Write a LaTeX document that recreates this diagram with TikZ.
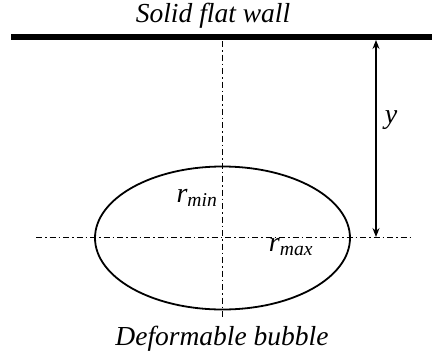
\documentclass[tikz,border=0pt]{standalone}
\usepackage{fontspec}
\setmainfont{Liberation Serif}
\usetikzlibrary{arrows.meta,shapes.geometric}
\begin{document}
\begin{tikzpicture}[x=1pt,y=-1pt,
  wall/.style={line width=6pt},
  axis/.style={line width=0.8pt, dash pattern=on 6pt off 3pt on 1.5pt off 3pt},
  bubble/.style={line width=1.8pt},
  dim/.style={line width=1.2pt, {Stealth[length=9pt,width=7pt,inset=3pt]}-{Stealth[length=9pt,width=7pt,inset=3pt]}},
  lbl/.style={inner sep=0pt, font=\fontsize{27.5}{30}\selectfont\itshape},
  rlbl/.style={inner sep=0pt, font=\fontsize{28}{30}\selectfont\itshape}]
\useasboundingbox (0,0) rectangle (432,360);
\coordinate (wl) at (11,37);
\coordinate (wr) at (432,37);
\draw[wall] (wl) -- (wr);
\node[lbl] (title) at (213,16) {Solid flat wall};
\coordinate (vt) at (222,41);
\coordinate (vb) at (222,318);
\coordinate (hl) at (36,237);
\coordinate (hr) at (410,237);
\draw[axis] (vt) -- (vb);
\draw[axis] (hl) -- (hr);
\node[bubble, draw, ellipse, minimum width=255pt, minimum height=143pt, inner sep=0pt] (bub) at (222.5,238) {};
\coordinate (at) at (376,40);
\coordinate (ab) at (376,237);
\draw[dim] (at) -- (ab);
\node[rlbl] (ylab) at (391,120) {y};
\node[rlbl] (rmin) at (197,198) {r\textsubscript{min}};
\node[rlbl] (rmax) at (291,247) {r\textsubscript{max}};
\node[lbl] (deform) at (222,339) {Deformable bubble};
\end{tikzpicture}
\end{document}
